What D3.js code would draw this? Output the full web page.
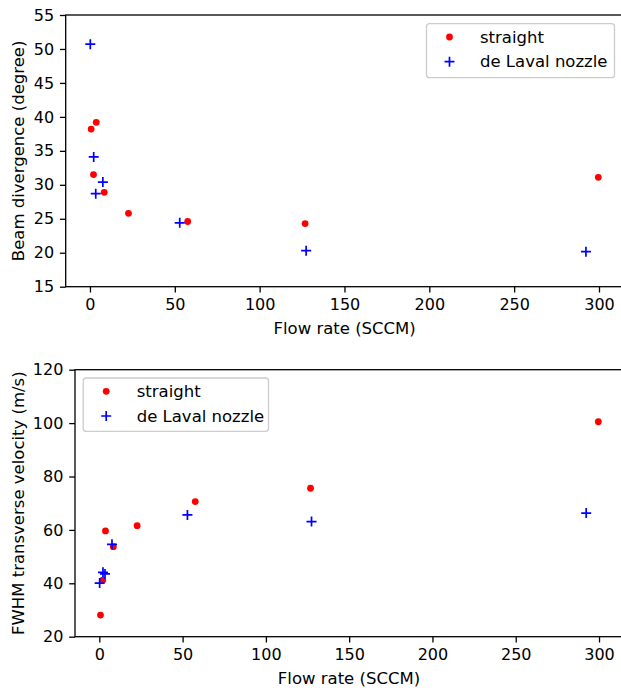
<!DOCTYPE html>
<html>
<head>
<meta charset="utf-8">
<script src="https://cdn.jsdelivr.net/npm/d3@7"></script>
<style>
  html, body { margin: 0; padding: 0; background: #fff; }
  svg { display: block; }
  text { font-family: "DejaVu Sans", sans-serif; fill: #000; }
</style>
</head>
<body>
<svg id="chart" width="621" height="688"></svg>
<script>
// ---- data ----
const flowStraight = [0.7, 2.1, 3.7, 8.4, 22.7, 57.6, 126.8, 299.6];
const flowLaval = [0.2, 2.2, 3.4, 7.6, 52.9, 127.4, 292.3];

const divStraight = [38.2, 31.5, 39.2, 28.9, 25.8, 24.6, 24.3, 31.1];
const divLaval = [50.7, 34.1, 28.7, 30.4, 24.4, 20.3, 20.15];

const velStraight = [28.1, 41.2, 59.6, 53.7, 61.6, 70.6, 75.6, 100.5];
const velLaval = [40.1, 44.1, 43.5, 54.6, 65.6, 63.1, 66.3];

const xTicks = [0, 50, 100, 150, 200, 250, 300];
const yTicksTop = [15, 20, 25, 30, 35, 40, 45, 50, 55];
const yTicksBottom = [20, 40, 60, 80, 100, 120];

const seriesNames = ["straight", "de Laval nozzle"];
const xLabel = "Flow rate (SCCM)";
const yLabelTop = "Beam divergence (degree)";
const yLabelBottom = "FWHM transverse velocity (m/s)";

// ---- drawing ----
const svg = d3.select("#chart");
const FS = 16;      // tick labels
const FL = 16.5;    // axis labels and legend
const TICK = 5.8, PAD = 5.8;

function panel(opts) {
  const g = svg.append("g");
  const x = d3.scaleLinear().domain(opts.xDomain).range([opts.left, opts.right]);
  const y = d3.scaleLinear().domain(opts.yDomain).range([opts.bottom, opts.top]);

  const straight = flowStraight.map((f, i) => ({x: f, y: opts.straight[i]}));
  const laval = flowLaval.map((f, i) => ({x: f, y: opts.laval[i]}));

  g.selectAll("circle.s").data(straight).enter().append("circle")
    .attr("cx", d => x(d.x)).attr("cy", d => y(d.y)).attr("r", 3.4)
    .attr("fill", "#ff0000");
  const pl = g.selectAll("g.l").data(laval).enter().append("g")
    .attr("transform", d => `translate(${x(d.x)},${y(d.y)})`);
  pl.append("path").attr("d", "M-5,0H5M0,-5V5")
    .attr("stroke", "#0000ff").attr("stroke-width", 1.7).attr("fill", "none");

  const xAxis = d3.axisBottom(x).tickValues(xTicks).tickSize(TICK).tickPadding(PAD).tickFormat(d3.format("d"));
  const yAxis = d3.axisLeft(y).tickValues(opts.yTicks).tickSize(TICK).tickPadding(PAD).tickFormat(d3.format("d"));
  const gx = g.append("g").attr("transform", `translate(0,${opts.bottom})`).call(xAxis);
  const gy = g.append("g").attr("transform", `translate(${opts.left},0)`).call(yAxis);
  [gx, gy].forEach(a => {
    a.select(".domain").remove();
    a.selectAll(".tick line").attr("stroke", "#000").attr("stroke-width", 1.3);
    a.selectAll(".tick text").attr("font-size", FS).attr("font-family", "DejaVu Sans");
  });

  g.append("rect").attr("x", opts.left).attr("y", opts.top)
    .attr("width", opts.right - opts.left).attr("height", opts.bottom - opts.top)
    .attr("fill", "none").attr("stroke", "#000").attr("stroke-width", 1.3);

  g.append("text").attr("x", (opts.left + opts.right) / 2).attr("y", opts.bottom + 47)
    .attr("text-anchor", "middle").attr("font-size", FL).text(xLabel);
  g.append("text").attr("transform", `translate(${opts.yLabelX},${(opts.top + opts.bottom) / 2}) rotate(-90)`)
    .attr("text-anchor", "middle").attr("font-size", FL).text(opts.yLabel);

  const L = opts.legend;
  const lg = g.append("g");
  lg.append("rect").attr("x", L.x).attr("y", L.y).attr("width", L.w).attr("height", L.h)
    .attr("rx", 3).attr("fill", "#fff").attr("fill-opacity", 0.8)
    .attr("stroke", "#cccccc").attr("stroke-width", 1.3);
  lg.append("circle").attr("cx", L.x + 23).attr("cy", L.y + 13.3).attr("r", 3.4).attr("fill", "#ff0000");
  lg.append("path").attr("transform", `translate(${L.x + 23},${L.y + 38})`).attr("d", "M-5,0H5M0,-5V5")
    .attr("stroke", "#0000ff").attr("stroke-width", 1.7);
  lg.append("text").attr("x", L.x + 53.5).attr("y", L.y + 13.3).attr("dy", "0.35em")
    .attr("font-size", FL).text(seriesNames[0]);
  lg.append("text").attr("x", L.x + 53.5).attr("y", L.y + 38).attr("dy", "0.35em")
    .attr("font-size", FL).text(seriesNames[1]);
}

panel({
  left: 65.7, right: 623.6, top: 15, bottom: 286.7,
  xDomain: [-14.3, 314.5], yDomain: [15, 55], yTicks: yTicksTop,
  straight: divStraight, laval: divLaval,
  yLabel: yLabelTop, yLabelX: 24,
  legend: {x: 426.5, y: 23.7, w: 188, h: 54}
});

panel({
  left: 75, right: 623.0, top: 369.7, bottom: 636.7,
  xDomain: [-14.6, 314.4], yDomain: [20, 120], yTicks: yTicksBottom,
  straight: velStraight, laval: velLaval,
  yLabel: yLabelBottom, yLabelX: 24,
  legend: {x: 83.2, y: 378, w: 185.3, h: 53.3}
});
</script>
</body>
</html>
